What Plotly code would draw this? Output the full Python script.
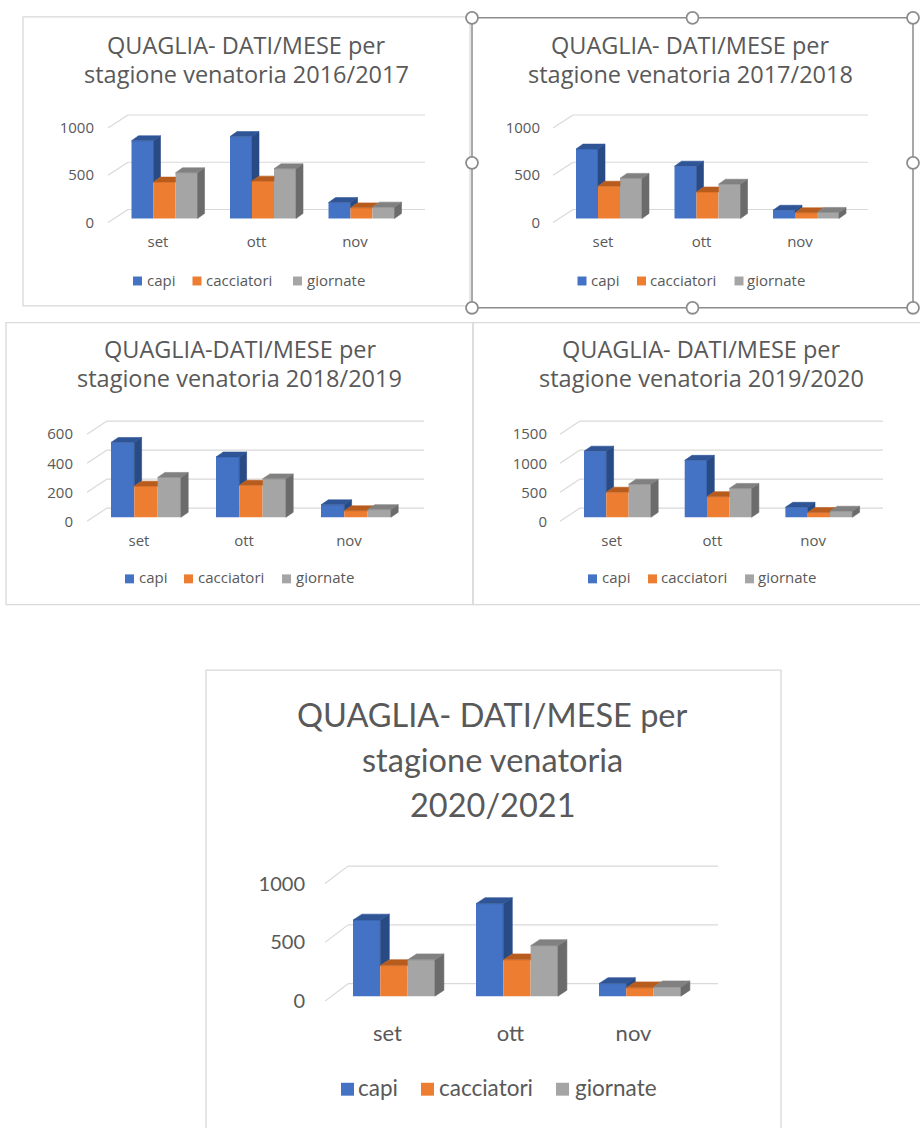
import plotly.graph_objects as go

W, H = 920, 1128

# ---- data -------------------------------------------------------------
months = ["set", "ott", "nov"]
series_names = ["capi", "cacciatori", "giornate"]

capi_2016 = [822, 866, 168]
cacciatori_2016 = [385, 395, 112]
giornate_2016 = [483, 525, 120]

capi_2017 = [734, 553, 87]
cacciatori_2017 = [341, 280, 60]
giornate_2017 = [424, 362, 64]

capi_2018 = [516, 416, 86]
cacciatori_2018 = [215, 221, 45]
giornate_2018 = [275, 265, 53]

capi_2019 = [1140, 982, 173]
cacciatori_2019 = [433, 356, 83]
giornate_2019 = [570, 498, 105]

capi_2020 = [647, 787, 107]
cacciatori_2020 = [260, 309, 71]
giornate_2020 = [309, 430, 79]

ticks_1000 = [0, 500, 1000]
ticks_600 = [0, 200, 400, 600]
ticks_1500 = [0, 500, 1000, 1500]

# ---- style ------------------------------------------------------------
SMALL_FONT = "Open Sans"
BIG_FONT = "Lato"
TXT = "#595959"
GRID = "#D9D9D9"
BORDER = "#D9D9D9"
FRONT = ["#4472C4", "#ED7D31", "#A5A5A5"]
TOP = ["#2F5597", "#B85C1E", "#818181"]
SIDE = ["#284A85", "#A4511A", "#6B6B6B"]

# pixel geometry of each chart panel
panels = [
    dict(values=(capi_2016, cacciatori_2016, giornate_2016), ticks=ticks_1000,
         title=["QUAGLIA- DATI/MESE per", "stagione venatoria 2016/2017"],
         box=(23, 17, 470, 308), title_x=246.5, title_y=[45, 75], title_size=23.5,
         font=SMALL_FONT, cat0=158, spacing=98.5, bar0=131.5, bw=22.0,
         base=220, k=0.0952, depth=(7, 5), wall=(108, 128, 425), floor=(224, 211),
         ylab_right=92, ytick_size=15, xtick_size=15, xlab_y=244,
         legend_y=283, legend_sq=[133, 192.5, 293], legend_tx=[147, 206, 307],
         sq=9, legend_size=15),
    dict(values=(capi_2017, cacciatori_2017, giornate_2017), ticks=ticks_1000,
         title=["QUAGLIA- DATI/MESE per", "stagione venatoria 2017/2018"],
         box=None, title_x=690.5, title_y=[45, 75], title_size=23.5,
         font=SMALL_FONT, cat0=603, spacing=98.5, bar0=576, bw=22.0,
         base=220, k=0.0952, depth=(7, 5), wall=(553, 573, 868), floor=(224, 211),
         ylab_right=538, ytick_size=15, xtick_size=15, xlab_y=244,
         legend_y=283, legend_sq=[577.5, 637, 734.5], legend_tx=[591, 650, 747],
         sq=9, legend_size=15),
    dict(values=(capi_2018, cacciatori_2018, giornate_2018), ticks=ticks_600,
         title=["QUAGLIA-DATI/MESE per", "stagione venatoria 2018/2019"],
         box=(6, 325, 473, 609), title_x=239.5, title_y=[351, 381], title_size=23.5,
         font=SMALL_FONT, cat0=139, spacing=105, bar0=111, bw=23.3,
         base=521, k=0.1461, depth=(7.3, 5), wall=(87, 107, 424), floor=(525, 511.7),
         ylab_right=71, ytick_size=15, xtick_size=15, xlab_y=545,
         legend_y=583, legend_sq=[125, 184, 282], legend_tx=[139, 198, 296],
         sq=9, legend_size=15),
    dict(values=(capi_2019, cacciatori_2019, giornate_2019), ticks=ticks_1500,
         title=["QUAGLIA- DATI/MESE per", "stagione venatoria 2019/2020"],
         box=(473, 325, 932, 609), title_x=701.6, title_y=[351, 381], title_size=23.5,
         font=SMALL_FONT, cat0=611.7, spacing=100.7, bar0=584, bw=22.3,
         base=521, k=0.05844, depth=(7.3, 5), wall=(560, 580, 883), floor=(525, 511.7),
         ylab_right=545, ytick_size=15, xtick_size=15, xlab_y=545,
         legend_y=583, legend_sq=[588, 648, 745], legend_tx=[602, 661, 758],
         sq=9, legend_size=15),
    dict(values=(capi_2020, cacciatori_2020, giornate_2020), ticks=ticks_1000,
         title=["QUAGLIA- DATI/MESE per", "stagione venatoria", "2020/2021"],
         box=(206, 675, 781, 1140), title_x=493, title_y=[720, 765, 810],
         title_size=32.5, font=BIG_FONT, cat0=387.5, spacing=123, bar0=353, bw=27.3,
         base=1003.3, k=0.1184, depth=(9, 6), wall=(325, 348, 718), floor=(1008.3, 990.7),
         ylab_right=303, ytick_size=20, xtick_size=22, xlab_y=1040,
         legend_y=1097, legend_sq=[341, 421, 556], legend_tx=[358, 439, 575],
         sq=13, legend_size=22.5),
]

fig = go.Figure()
shapes = []
annotations = []


def px(x):
    return x / W


def py(y):
    return 1 - y / H


def add_panel(idx, p):
    sfx = "" if idx == 1 else str(idx)
    xname, yname = "x" + sfx, "y" + sfx
    sp, k, base, cx = p["spacing"], p["k"], p["base"], p["cat0"]

    def X(x):
        return (x - cx) / sp

    def Y(y):
        return (base - y) / k

    wf, wb, wr = p["wall"]
    ff, fb = p["floor"]
    ticks = p["ticks"]
    xl, xr = wf - 2, wr + 2
    yb = ff + 3
    yt = fb - max(ticks) * k - 3

    fig.layout["xaxis" + sfx] = dict(
        domain=[px(xl), px(xr)], range=[X(xl), X(xr)], anchor=yname,
        tickvals=[0, 1, 2], ticktext=months, showgrid=False, zeroline=False,
        showline=False, ticks="", fixedrange=True,
        tickfont=dict(family=p["font"], size=p["xtick_size"], color=TXT),
        ticklabelstandoff=int(round(max(0, (p["xlab_y"] - yb) - 0.55 * p["xtick_size"] - 3))),
    )
    # value labels sit on the front edge of the floor, which lies below the bar base
    front_drop = Y(ff)
    fig.layout["yaxis" + sfx] = dict(
        domain=[py(yb), py(yt)], range=[Y(yb), Y(yt)], anchor=xname,
        tickvals=[v + front_drop for v in ticks], ticktext=[str(v) for v in ticks],
        showgrid=False, zeroline=False, showline=False, ticks="",
        fixedrange=True,
        tickfont=dict(family=p["font"], size=p["ytick_size"], color=TXT),
        ticklabelstandoff=int(round(max(0, xl - p["ylab_right"] - 3))),
    )

    # back wall gridlines and the left side wall edges
    for v in ticks:
        y_front = Y(ff) + v
        y_back = Y(fb) + v
        shapes.append(dict(type="line", xref=xname, yref=yname, layer="below",
                           x0=X(wf), y0=y_front, x1=X(wb), y1=y_back,
                           line=dict(color=GRID, width=1.2)))
        shapes.append(dict(type="line", xref=xname, yref=yname, layer="below",
                           x0=X(wb), y0=y_back, x1=X(wr), y1=y_back,
                           line=dict(color=GRID, width=1.2)))

    dxu = p["depth"][0] / sp
    dyu = p["depth"][1] / k
    wu = p["bw"] / sp
    vals = p["values"]
    for j, name in enumerate(series_names):
        off = (p["bar0"] - cx) / sp + j * wu
        fig.add_trace(go.Bar(
            x=[0, 1, 2], y=vals[j], width=wu, offset=off, name=name,
            marker=dict(color=FRONT[j], line=dict(width=0)),
            xaxis=xname, yaxis=yname, showlegend=False, hoverinfo="skip"))

        top_x, top_y, side_x, side_y = [], [], [], []
        for i in range(3):
            x0 = i + off
            x1 = x0 + wu
            v = vals[j][i]
            vn = vals[j + 1][i] if j < 2 else None
            # side face, hidden below the neighbouring bar on its right
            lo = 0 if vn is None else vn
            if v > lo:
                side_x += [x1, x1 + dxu, x1 + dxu, x1, x1, None]
                side_y += [lo, lo + dyu, v + dyu, v, lo, None]
            # top face, trimmed where a taller neighbour stands in front
            if vn is not None and vn > v:
                xs = x1 + max(0.0, v + dyu - vn) * dxu / dyu
                top_x += [x0, x1, x1, xs, x0 + dxu, x0, None]
                top_y += [v, v, min(vn, v + dyu), v + dyu, v + dyu, v, None]
            else:
                top_x += [x0, x1, x1 + dxu, x0 + dxu, x0, None]
                top_y += [v, v, v + dyu, v + dyu, v, None]
        for xs_, ys_, col in ((side_x, side_y, SIDE[j]), (top_x, top_y, TOP[j])):
            if xs_:
                fig.add_trace(go.Scatter(
                    x=xs_, y=ys_, mode="lines", fill="toself", fillcolor=col,
                    line=dict(color=col, width=0.6), xaxis=xname, yaxis=yname,
                    showlegend=False, hoverinfo="skip"))

    # panel frame
    if p["box"] is not None:
        bx0, by0, bx1, by1 = p["box"]
        shapes.append(dict(type="rect", xref="paper", yref="paper",
                           x0=px(bx0), y0=py(by0), x1=px(bx1), y1=py(by1),
                           line=dict(color=BORDER, width=1.3), fillcolor="rgba(0,0,0,0)",
                           layer="below"))

    # title lines
    for line, ty in zip(p["title"], p["title_y"]):
        annotations.append(dict(
            text=line, x=px(p["title_x"]), y=py(ty), xref="paper", yref="paper",
            xanchor="center", yanchor="middle", showarrow=False,
            font=dict(family=p["font"], size=p["title_size"], color=TXT)))

    # legend
    s = p["sq"]
    ly = p["legend_y"]
    for j, name in enumerate(series_names):
        sx = p["legend_sq"][j]
        shapes.append(dict(type="rect", xref="paper", yref="paper",
                           x0=px(sx), x1=px(sx + s), y0=py(ly - s / 2), y1=py(ly + s / 2),
                           line=dict(width=0), fillcolor=FRONT[j]))
        annotations.append(dict(
            text=name, x=px(p["legend_tx"][j] - 2), y=py(ly - 1.5), xref="paper", yref="paper",
            xanchor="left", yanchor="middle", showarrow=False,
            font=dict(family=p["font"], size=p["legend_size"], color=TXT)))


for n, p in enumerate(panels, start=1):
    add_panel(n, p)

# selected chart frame with its sizing handles
FX0, FY0, FX1, FY1 = 472, 18, 913, 310
shapes.append(dict(type="rect", xref="paper", yref="paper",
                   x0=px(FX0), y0=py(FY0), x1=px(FX1), y1=py(FY1),
                   line=dict(color="#8C8C8C", width=1.5), fillcolor="rgba(0,0,0,0)"))
r = 6
for hx in (FX0, (FX0 + FX1) / 2, FX1):
    for hy in (FY0, (FY0 + FY1) / 2, FY1):
        if hx == (FX0 + FX1) / 2 and hy == (FY0 + FY1) / 2:
            continue
        shapes.append(dict(type="circle", xref="paper", yref="paper",
                           x0=px(hx - r), x1=px(hx + r), y0=py(hy - r), y1=py(hy + r),
                           line=dict(color="#8C8C8C", width=1.8), fillcolor="white"))

fig.update_layout(
    width=W, height=H, autosize=False,
    margin=dict(l=0, r=0, t=0, b=0),
    paper_bgcolor="white", plot_bgcolor="rgba(0,0,0,0)",
    barmode="overlay", showlegend=False,
    shapes=shapes, annotations=annotations,
)

fig.write_html("out.html")
